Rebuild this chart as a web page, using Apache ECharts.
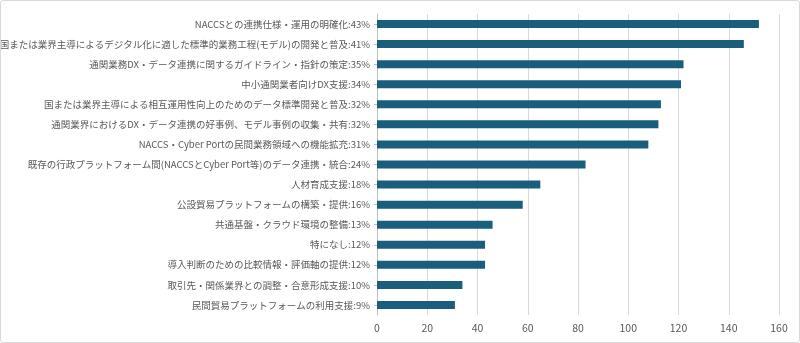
<!DOCTYPE html>
<html>
<head>
<meta charset="utf-8">
<script src="https://cdn.jsdelivr.net/npm/echarts@6/dist/echarts.min.js"></script>
<style>
  html, body { margin: 0; padding: 0; background: #fff; }
  #chartBox { width: 800px; height: 343px; box-sizing: border-box; border: 1px solid #d9d9d9; border-radius: 3px; }
</style>
</head>
<body>
<div id="chartBox"></div>
<script>
// 上から順に
const categories = [
  'NACCSとの連携仕様・運用の明確化:43%',
  '国または業界主導によるデジタル化に適した標準的業務工程(モデル)の開発と普及:41%',
  '通関業務DX・データ連携に関するガイドライン・指針の策定:35%',
  '中小通関業者向けDX支援:34%',
  '国または業界主導による相互運用性向上のためのデータ標準開発と普及:32%',
  '通関業界におけるDX・データ連携の好事例、モデル事例の収集・共有:32%',
  'NACCS・Cyber Portの民間業務領域への機能拡充:31%',
  '既存の行政プラットフォーム間(NACCSとCyber Port等)のデータ連携・統合:24%',
  '人材育成支援:18%',
  '公設貿易プラットフォームの構築・提供:16%',
  '共通基盤・クラウド環境の整備:13%',
  '特になし:12%',
  '導入判断のための比較情報・評価軸の提供:12%',
  '取引先・関係業界との調整・合意形成支援:10%',
  '民間貿易プラットフォームの利用支援:9%'
];
const counts = [152, 146, 122, 121, 113, 112, 108, 83, 65, 58, 46, 43, 43, 34, 31];
const xTicks = [0, 160, 20];  // min, max, interval

const chart = echarts.init(document.getElementById('chartBox'));
chart.setOption({
  animation: false,
  textStyle: { fontFamily: '"Noto Sans CJK JP", "Noto Sans", sans-serif' },
  grid: { left: 376, right: 20, top: 13, bottom: 27, containLabel: false, outerBoundsMode: 'none' },
  xAxis: {
    type: 'value',
    min: xTicks[0],
    max: xTicks[1],
    interval: xTicks[2],
    axisLine: { show: false },
    axisTick: { show: false },
    splitLine: { lineStyle: { color: '#d9d9d9', width: 1 } },
    axisLabel: { color: '#595959', fontSize: 10.5, margin: 8 }
  },
  yAxis: {
    type: 'category',
    inverse: true,
    data: categories,
    axisLine: { lineStyle: { color: '#bfbfbf' } },
    axisTick: { show: true, alignWithLabel: true, length: 3, lineStyle: { color: '#bfbfbf' } },
    axisLabel: { color: '#595959', fontSize: 9.5, margin: 7 }
  },
  series: [{
    type: 'bar',
    data: counts,
    barWidth: 8,
    itemStyle: { color: '#1a5e7e' }
  }]
});
</script>
</body>
</html>
